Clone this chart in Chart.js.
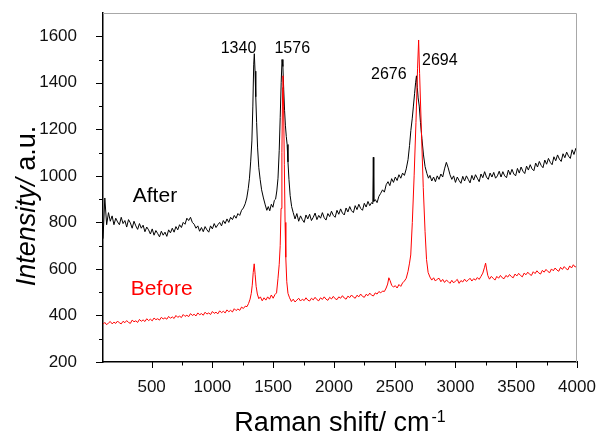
<!DOCTYPE html>
<html>
<head>
<meta charset="utf-8">
<script src="https://cdn.jsdelivr.net/npm/chart.js@4.4.0/dist/chart.umd.min.js"></script>
<style>
  html, body { margin: 0; padding: 0; background: #fff; }
  #wrap { width: 600px; height: 436px; }
</style>
</head>
<body>
<div id="wrap"><canvas id="raman" width="600" height="436"></canvas></div>
<script>
// Raman spectra, values
const afterShift = [
    100, 115, 130, 145, 160, 175, 190, 205, 220, 235,
    250, 265, 280, 295, 310, 325, 340, 355, 370, 385,
    400, 415, 430, 445, 460, 475, 490, 505, 520, 535,
    550, 565, 580, 595, 610, 625, 640, 655, 670, 685,
    700, 715, 730, 745, 760, 775, 790, 805, 820, 835,
    850, 865, 880, 895, 910, 925, 940, 955, 970, 985,
    1000, 1015, 1030, 1045, 1060, 1075, 1090, 1105, 1120, 1135,
    1150, 1165, 1180, 1195, 1210, 1225, 1240,
    1255, 1270, 1283, 1295, 1305, 1315, 1325, 1333, 1340, 1345,
    1351, 1357, 1364, 1372, 1382, 1393, 1405, 1420, 1435, 1448,
    1460, 1472, 1485, 1498, 1510, 1520, 1530, 1540, 1550, 1558,
    1566, 1573, 1580, 1587, 1594, 1601, 1608, 1615, 1622, 1630,
    1640, 1652, 1665,
    1680, 1695, 1710, 1725, 1740, 1755, 1770, 1785, 1800, 1815,
    1830, 1845, 1860, 1875, 1890, 1905, 1920, 1935, 1950, 1965,
    1980, 1995, 2010, 2025, 2040, 2055, 2070, 2085, 2100, 2115,
    2130, 2145, 2160, 2175, 2190, 2205, 2220, 2235, 2250, 2265,
    2280, 2295, 2310,
    2320, 2324, 2328,
    2340, 2355, 2370, 2385, 2400, 2415, 2430, 2445, 2460, 2475,
    2490, 2505, 2520, 2535, 2550, 2565, 2580, 2595,
    2610, 2622, 2633, 2644, 2654, 2664, 2672, 2679, 2686, 2693,
    2702, 2712, 2724, 2737, 2750, 2765, 2778,
    2790, 2805, 2820, 2835, 2850, 2865, 2880, 2895, 2910, 2925,
    2940, 2955, 2970, 2985, 3000, 3015, 3030, 3045, 3060, 3075,
    3090, 3105, 3120, 3135, 3150, 3165, 3180, 3195, 3210, 3225,
    3240, 3255, 3270, 3285, 3300, 3315, 3330, 3345, 3360, 3375,
    3390, 3405, 3420, 3435, 3450, 3465, 3480, 3495, 3510, 3525,
    3540, 3555, 3570, 3585, 3600, 3615, 3630, 3645, 3660, 3675,
    3690, 3705, 3720, 3735, 3750, 3765, 3780, 3795, 3810, 3825,
    3840, 3855, 3870, 3885, 3900, 3915, 3930, 3945, 3960, 3975,
    3990, 4000
];
const afterIntensity = [
    730, 905, 790, 842, 805, 828, 790, 818, 802, 790,
    822, 795, 808, 780, 812, 798, 775, 805, 785, 770,
    795, 775, 788, 760, 780, 768, 750, 772, 745, 765,
    752, 738, 762, 745, 758, 740, 768, 755, 775, 758,
    782, 768, 790, 778, 800, 792, 818, 808, 822, 800,
    792, 775, 785, 762, 778, 760, 782, 768, 758, 785,
    772, 795, 778, 790, 800, 785, 808, 795, 815, 800,
    822, 812, 830, 818, 838, 830, 852,
    862, 880, 905, 945, 990, 1060, 1150, 1300, 1480, 1525,
    1450, 1340, 1230, 1120, 1035, 985, 940, 905, 875, 852,
    868, 850, 878, 865, 895, 900, 935, 990, 1110, 1250,
    1400, 1500, 1470, 1370, 1280, 1215, 1170, 1135, 1060, 985,
    915, 868, 842,
    815, 838, 805, 828, 812, 800, 832, 815, 835, 808,
    822, 840, 812, 830, 818, 842, 820, 810, 838, 825,
    848, 830, 822, 852, 835, 858, 840, 832, 862, 845,
    868, 850, 842, 872, 855, 878, 860, 852, 882, 866,
    890, 872, 885,
    880, 1080, 890,
    898, 885, 912, 925, 940, 930, 962, 975, 958, 988,
    972, 995, 980, 1005, 990, 1012, 1002, 1030,
    1070, 1130, 1195, 1245, 1300, 1355, 1400, 1430, 1380, 1335,
    1300, 1230, 1160, 1090, 1040, 1010, 990,
    1002, 978, 995, 975, 1000, 985, 1008, 995, 1030, 1058,
    1035, 1005, 985, 1000, 972, 995, 980, 968, 998, 978,
    1000, 985, 970, 1002, 982, 1005, 990, 975, 1008, 992,
    1018, 995, 985, 1012, 995, 1015, 990, 1000, 1020, 995,
    1018, 1000, 992, 1025, 1005, 1028, 1008, 1000, 1032, 1012,
    1038, 1020, 1010, 1042, 1025, 1048, 1030, 1022, 1055, 1038,
    1062, 1045, 1035, 1068, 1050, 1075, 1058, 1048, 1082, 1065,
    1090, 1072, 1062, 1095, 1078, 1102, 1085, 1075, 1112, 1092,
    1118, 1100
];
const beforeShift = [
    100, 115, 130, 145, 160, 175, 190, 205, 220, 235,
    250, 265, 280, 295, 310, 325, 340, 355, 370, 385,
    400, 415, 430, 445, 460, 475, 490, 505, 520, 535,
    550, 565, 580, 595, 610, 625, 640, 655, 670, 685,
    700, 715, 730, 745, 760, 775, 790, 805, 820, 835,
    850, 865, 880, 895, 910, 925, 940, 955, 970, 985,
    1000, 1015, 1030, 1045, 1060, 1075, 1090, 1105, 1120, 1135,
    1150, 1165, 1180, 1195, 1210, 1225, 1240, 1255, 1270,
    1285, 1298, 1310, 1320, 1328, 1336, 1344, 1352, 1360, 1370, 1382,
    1395, 1410, 1425, 1440, 1455, 1470, 1485, 1500, 1515, 1528,
    1540, 1550, 1558, 1565, 1572, 1578, 1581, 1586, 1592, 1598,
    1604, 1612, 1622, 1635,
    1650, 1665, 1680, 1695, 1710, 1725, 1740, 1755, 1770, 1785,
    1800, 1815, 1830, 1845, 1860, 1875, 1890, 1905, 1920, 1935,
    1950, 1965, 1980, 1995, 2010, 2025, 2040, 2055, 2070, 2085,
    2100, 2115, 2130, 2145, 2160, 2175, 2190, 2205, 2220, 2235,
    2250, 2265, 2280, 2295, 2310, 2325, 2340, 2355, 2370, 2385,
    2400, 2415, 2430,
    2442, 2452, 2462, 2475,
    2490, 2505, 2520, 2535, 2550, 2565, 2580, 2595,
    2610, 2622, 2632, 2645, 2660, 2675, 2688, 2697, 2705, 2720,
    2735, 2750, 2762, 2775,
    2790, 2805, 2820, 2835, 2850, 2865, 2880, 2895, 2910, 2925,
    2940, 2955, 2970, 2985, 3000, 3015, 3030, 3045, 3060, 3075,
    3090, 3105, 3120, 3135, 3150, 3165, 3180, 3195, 3210, 3225,
    3238, 3248, 3256, 3266,
    3280, 3295, 3310, 3325, 3340, 3355, 3370, 3385, 3400, 3415,
    3430, 3445, 3460, 3475, 3490, 3505, 3520, 3535, 3550, 3565,
    3580, 3595, 3610, 3625, 3640, 3655, 3670, 3685, 3700, 3715,
    3730, 3745, 3760, 3775, 3790, 3805, 3820, 3835, 3850, 3865,
    3880, 3895, 3910, 3925, 3940, 3955, 3970, 3985, 4000
];
const beforeIntensity = [
    362, 370, 360, 368, 374, 364, 371, 366, 376, 368,
    364, 375, 369, 378, 370, 366, 380, 373, 377, 370,
    383, 375, 381, 374, 386, 378, 384, 377, 389, 382,
    386, 380, 392, 385, 390, 384, 396, 388, 394, 387,
    400, 392, 397, 391, 404, 396, 401, 395, 408, 400,
    405, 398, 411, 403, 408, 401, 414, 406, 411, 404,
    417, 409, 414, 407, 420, 412, 418, 411, 424, 416,
    422, 415, 429, 421, 428, 422, 436, 430, 440,
    438, 452, 470, 495, 530, 585, 622, 575, 525, 492, 472,
    480, 463, 476, 466, 480, 470, 488, 474, 490, 497,
    560, 620, 700, 860, 1100, 1380, 1430, 1300, 1050, 800,
    650, 545, 495, 476,
    460, 470, 458, 466, 474, 462, 470, 464, 476, 466,
    462, 474, 467, 478, 468, 463, 476, 469, 480, 470,
    465, 478, 471, 482, 472, 468, 480, 474, 485, 475,
    470, 483, 477, 488, 479, 474, 487, 480, 492, 482,
    478, 491, 485, 496, 487, 484, 497, 492, 503, 497,
    505, 503, 518,
    535, 562, 550, 530,
    522, 528, 518, 533, 525, 540, 548, 560,
    590, 625, 660, 800, 1000, 1230, 1460, 1584, 1440, 1190,
    950, 760, 640, 585,
    565, 552, 562, 548, 556, 560, 545, 555, 542, 552,
    546, 538, 551, 540, 548, 555, 538, 550, 544, 556,
    546, 552, 560, 548, 558, 552, 563, 555, 568, 582,
    605, 625, 600, 572,
    556, 568, 560, 552, 568, 560, 572, 562, 558, 572,
    565, 576, 567, 562, 578, 570, 581, 572, 566, 582,
    575, 586, 577, 572, 588, 580, 592, 583, 578, 594,
    586, 598, 589, 584, 600, 592, 604, 595, 590, 607,
    598, 610, 601, 596, 613, 604, 618, 608, 615
];

const xTickLabels = [500, 1000, 1500, 2000, 2500, 3000, 3500, 4000];
const yTickLabels = [200, 400, 600, 800, 1000, 1200, 1400, 1600];

// peak positions and series names written on the plot (data units)
const notes = [
    { text: '1340', x: 1215, y: 1530, color: '#000', size: 16, align: 'center' },
    { text: '1576', x: 1657, y: 1530, color: '#000', size: 16, align: 'center' },
    { text: '2676', x: 2452, y: 1417, color: '#000', size: 16, align: 'center' },
    { text: '2694', x: 2871, y: 1477, color: '#000', size: 16, align: 'center' },
    { text: 'After', x: 345, y: 887, color: '#000', size: 21, align: 'left' },
    { text: 'Before', x: 328, y: 486, color: '#ff0000', size: 21, align: 'left' }
];

const FONT = '"Liberation Sans", Arial, Helvetica, sans-serif';

function toPoints(xs, ys) {
    return xs.map((x, i) => ({ x: x, y: ys[i] }));
}

// the scales must not reserve extra room for their end labels
function noScalePadding(scale) {
    scale.paddingTop = 0;
    scale.paddingBottom = 0;
    scale.paddingLeft = 0;
    scale.paddingRight = 0;
}

// outward major/minor ticks, grey top/right frame, titles and notes
const decorations = {
    id: 'decorations',
    afterDraw(chart) {
        const ctx = chart.ctx;
        const a = chart.chartArea;
        const xs = chart.scales.x;
        const ys = chart.scales.y;
        ctx.save();

        ctx.strokeStyle = '#a8a8a8';
        ctx.lineWidth = 1;
        ctx.beginPath();
        ctx.moveTo(a.left, a.top + 0.5);
        ctx.lineTo(a.right - 0.5, a.top + 0.5);
        ctx.lineTo(a.right - 0.5, a.bottom);
        ctx.stroke();

        ctx.strokeStyle = '#000';
        ctx.lineWidth = 1;
        ctx.beginPath();
        xs.ticks.forEach(t => {
            if (t.value % 250 !== 0) return;
            const px = Math.round(xs.getPixelForValue(t.value)) + 0.5;
            const len = t.value % 500 === 0 ? 6 : 3.5;
            ctx.moveTo(px, a.bottom);
            ctx.lineTo(px, a.bottom + len);
        });
        ys.ticks.forEach(t => {
            if (t.value % 100 !== 0 || t.value >= ys.max) return;
            const py = Math.round(ys.getPixelForValue(t.value)) + 0.5;
            const len = t.value % 200 === 0 ? 7 : 4;
            ctx.moveTo(a.left, py);
            ctx.lineTo(a.left - len, py);
        });
        ctx.stroke();

        // axis titles
        ctx.fillStyle = '#000';
        ctx.textBaseline = 'alphabetic';
        ctx.textAlign = 'left';
        const main = 'Raman shift/ cm';
        const sup = '-1';
        ctx.font = '27px ' + FONT;
        const wMain = ctx.measureText(main).width;
        ctx.font = '16px ' + FONT;
        const wSup = ctx.measureText(sup).width;
        const cx = (a.left + a.right) / 2;
        const x0 = cx - (wMain + wSup + 2) / 2;
        ctx.font = '27px ' + FONT;
        ctx.fillText(main, x0, 431);
        ctx.font = '16px ' + FONT;
        ctx.fillText(sup, x0 + wMain + 2, 422);

        ctx.save();
        ctx.translate(35, 206);
        ctx.rotate(-Math.PI / 2);
        const it = 'Intensity/';
        const rest = ' a.u.';
        ctx.font = 'italic 27px ' + FONT;
        const wIt = ctx.measureText(it).width;
        ctx.font = '27px ' + FONT;
        const wRest = ctx.measureText(rest).width;
        const start = -(wIt + wRest) / 2;
        ctx.font = 'italic 27px ' + FONT;
        ctx.fillText(it, start, 0);
        ctx.font = '27px ' + FONT;
        ctx.fillText(rest, start + wIt, 0);
        ctx.restore();

        notes.forEach(n => {
            ctx.font = n.size + 'px ' + FONT;
            ctx.fillStyle = n.color;
            ctx.textAlign = n.align;
            ctx.fillText(n.text, xs.getPixelForValue(n.x), ys.getPixelForValue(n.y));
        });

        ctx.restore();
    }
};

const ctx = document.getElementById('raman').getContext('2d');
new Chart(ctx, {
    type: 'line',
    data: {
        datasets: [{
            label: 'Before',
            data: toPoints(beforeShift, beforeIntensity),
            borderColor: '#ff0000',
            borderWidth: 1,
            pointRadius: 0,
            tension: 0
        }, {
            label: 'After',
            data: toPoints(afterShift, afterIntensity),
            borderColor: '#000000',
            borderWidth: 1,
            pointRadius: 0,
            tension: 0
        }]
    },
    options: {
        responsive: false,
        animation: false,
        events: [],
        layout: {
            padding: { top: 13, right: 23, left: 0, bottom: 0 }
        },
        plugins: {
            legend: { display: false },
            tooltip: { enabled: false }
        },
        scales: {
            x: {
                type: 'linear',
                min: 100,
                max: 4000,
                grid: { display: false },
                border: { display: true, color: '#000', width: 1.5 },
                ticks: {
                    stepSize: 250,
                    autoSkip: false,
                    maxRotation: 0,
                    padding: 7,
                    color: '#111',
                    font: { family: FONT, size: 17 },
                    callback: function(value) {
                        return xTickLabels.includes(value) ? String(value) : '';
                    }
                },
                afterFit: function(scale) {
                    scale.height = 74;
                    noScalePadding(scale);
                }
            },
            y: {
                min: 200,
                max: 1700,
                grid: { display: false },
                border: { display: true, color: '#000', width: 1.5 },
                ticks: {
                    stepSize: 100,
                    autoSkip: false,
                    padding: 18,
                    color: '#111',
                    font: { family: FONT, size: 17 },
                    callback: function(value) {
                        return yTickLabels.includes(value) ? String(value) : '';
                    }
                },
                afterFit: function(scale) {
                    scale.width = 103;
                    noScalePadding(scale);
                }
            }
        }
    },
    plugins: [decorations]
});
</script>
</body>
</html>
